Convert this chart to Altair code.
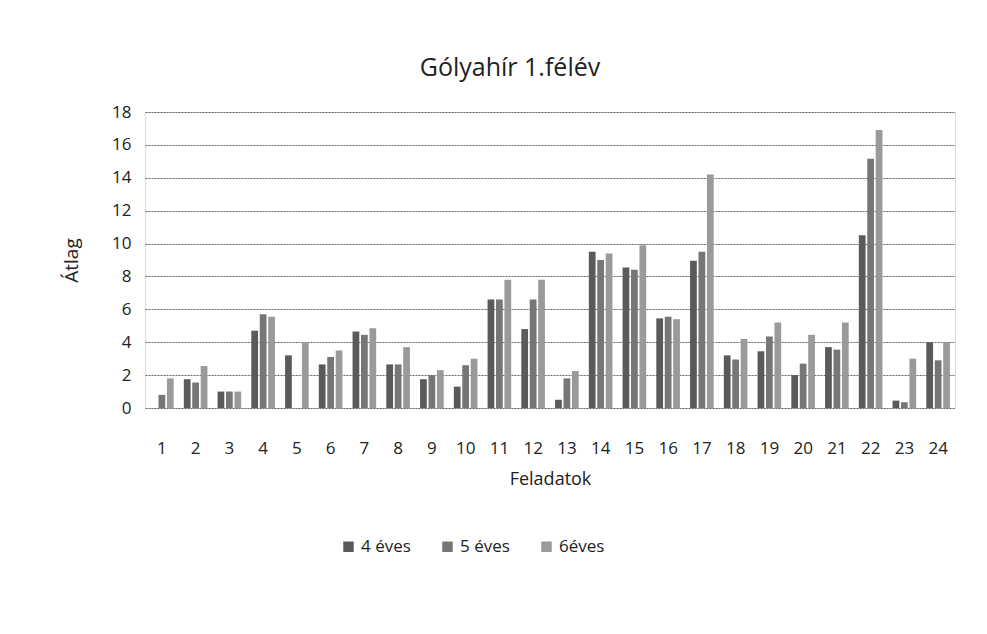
import altair as alt
import pandas as pd

tasks = [str(i) for i in range(1, 25)]
series = ["4 éves", "5 éves", "6éves"]
v4 = [0, 1.75, 1.0, 4.7, 3.2, 2.65, 4.65, 2.65, 1.75, 1.3, 6.6, 4.8, 0.5, 9.5, 8.55, 5.45, 8.95, 3.2, 3.45, 2.0, 3.7, 10.5, 0.45, 4.0]
v5 = [0.8, 1.55, 1.0, 5.7, 0, 3.1, 4.45, 2.65, 2.0, 2.6, 6.6, 6.6, 1.8, 9.0, 8.4, 5.55, 9.5, 2.95, 4.35, 2.7, 3.55, 15.15, 0.35, 2.9]
v6 = [1.8, 2.55, 1.0, 5.55, 3.95, 3.5, 4.85, 3.7, 2.3, 3.0, 7.8, 7.8, 2.25, 9.4, 9.9, 5.4, 14.2, 4.2, 5.2, 4.45, 5.2, 16.9, 3.0, 4.0]
colors = ["#5a5a5a", "#767676", "#9a9a9a"]

rows = []
for s, vals in zip(series, [v4, v5, v6]):
    for t, v in zip(tasks, vals):
        rows.append({"Feladatok": t, "Sorozat": s, "Átlag": v})
df = pd.DataFrame(rows)

FONT = "Open Sans"

chart = alt.Chart(df).mark_bar().encode(
    x=alt.X("Feladatok:N", sort=tasks,
            scale=alt.Scale(paddingInner=0.3, paddingOuter=0.15),
            axis=alt.Axis(title="Feladatok", labelAngle=0, ticks=False, domain=False,
                          labelFontSize=17, titleFontSize=18, labelPadding=32,
                          titlePadding=14, labelColor="#222", titleColor="#222",
                          labelFont=FONT, titleFont=FONT, titleFontWeight="normal")),
    xOffset=alt.XOffset("Sorozat:N", sort=series,
                        scale=alt.Scale(paddingInner=0.2)),
    y=alt.Y("Átlag:Q", scale=alt.Scale(domain=[0, 18]),
            axis=alt.Axis(title="Átlag", values=list(range(0, 19, 2)), ticks=False,
                          domain=False, grid=True, gridColor="#666", gridWidth=1,
                          gridDash=[2, 1], labelFontSize=17, titleFontSize=19,
                          labelPadding=14, titlePadding=30, labelColor="#222",
                          titleColor="#222", labelFont=FONT, titleFont=FONT,
                          titleFontWeight="normal")),
    color=alt.Color("Sorozat:N", sort=series,
                    scale=alt.Scale(domain=series, range=colors),
                    legend=alt.Legend(title=None, orient="none", direction="horizontal",
                                      legendX=195, legendY=426,
                                      symbolType="square", symbolSize=110,
                                      labelFontSize=17, labelFont=FONT,
                                      labelColor="#222", columnPadding=28)),
).properties(
    width=810,
    height=296,
    title=alt.TitleParams("Gólyahír 1.félév", fontSize=25, font=FONT,
                          fontWeight="normal", color="#222", offset=22, dx=-40),
    padding={"left": 54, "top": 48, "right": 10, "bottom": 10},
).configure_view(stroke=None).configure(background="white")

chart.save("out.html", embed_options={"renderer": "svg", "actions": False})
